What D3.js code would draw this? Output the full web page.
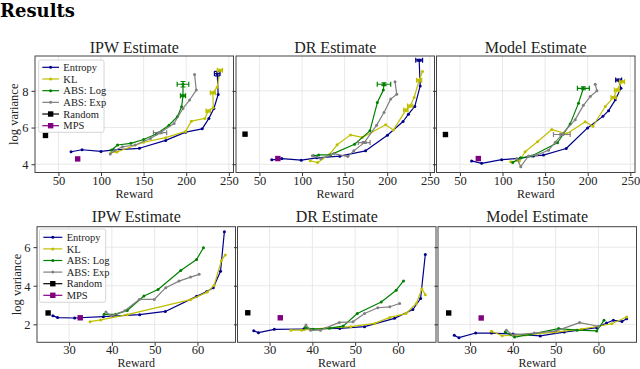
<!DOCTYPE html>
<html><head><meta charset="utf-8">
<script src="https://cdn.jsdelivr.net/npm/d3@7"></script>
<style>
body{margin:0;background:#fff}
svg{display:block}
text{font-family:"Liberation Serif",serif;fill:#222}
</style>
</head><body>
<svg id="c" width="640" height="369"></svg>
<script>
// ---------- data ----------
const seriesNames = ["Entropy", "KL", "ABS: Log", "ABS: Exp"];
const baselineNames = ["Random", "MPS"];
const topTitles = ["IPW Estimate", "DR Estimate", "Model Estimate"];
const bottomTitles = ["IPW Estimate", "DR Estimate", "Model Estimate"];
const topRewardTicks = [50, 100, 150, 200, 250];
const topLogVarTicks = [4, 6, 8];
const bottomRewardTicks = [30, 40, 50, 60];
const bottomLogVarTicks = [2, 4, 6];

// top row: [reward, log variance]
const topIpwEntropy = [[64.8,4.68],[77.7,4.79],[99.9,4.7],[115.5,4.78],[145.1,4.87],[175.9,5.3],[199.3,5.75],[218.8,5.93],[226.6,6.5],[232.5,7.04],[237.5,7.8],[236.4,8.94]];
const topIpwKL = [[111.6,4.63],[118.6,4.67],[150,5.2],[175.9,5.45],[199.3,5.79],[206,6.35],[221.9,6.5],[225.8,6.9],[231.7,7.08],[231.3,7.9],[236.4,8.2],[239.5,9.12]];
const topIpwLog = [[112.4,4.78],[119.4,5.05],[135,5.14],[150,5.35],[165,5.65],[179.8,6.13],[189.6,6.59],[194.6,7.13],[196.2,7.73],[196.2,8.36]];
const topIpwExp = [[110.8,4.56],[116,4.75],[125,4.95],[140,5.05],[158,5.4],[169.3,5.72],[185.7,6.22],[196.2,7.04],[204,7.5],[211.8,8.04],[209.8,8.89]];
const topIpwRandom = [34.8,5.57];
const topIpwMPS = [72.6,4.29];
// errorbars: [series index, reward, log variance, reward err, log variance err]
const topIpwErrors = [[0,236.4,8.94,3.3,0.12],[1,239.5,9.12,3,0.05],[1,231.3,7.9,3,0.05],[1,225.8,6.9,2.5,0.05],[2,196.2,8.36,6.8,0.15],[2,196.2,7.73,3,0.05],[3,169.3,5.72,7.8,0.05]];

const topDrEntropy = [[64.5,4.24],[76.3,4.31],[99.1,4.22],[117.6,4.35],[144.3,4.44],[174.6,4.73],[200.2,5.58],[218.6,6.33],[224.9,6.73],[232.4,7.15],[238.7,8.27],[237.5,9.67]];
const topDrKL = [[109.7,4.19],[118.4,4.09],[132.5,4.55],[141.2,5.06],[156.9,5.6],[170.7,5.46],[198.2,6.15],[207.2,5.86],[221.8,6.95],[226.9,7.18],[231.6,7.64],[237.5,8.58],[241.4,9.05]];
const topDrLog = [[113.7,4.46],[119.6,4.51],[133.3,4.51],[161.6,5.09],[179.7,5.82],[188.4,7.36],[195.4,8.04],[196.2,8.36]];
const topDrExp = [[112.1,4.46],[122,4.3],[137.3,4.58],[153.8,4.42],[160.8,4.73],[173,5.18],[187.6,6.13],[196.2,6.82],[204.1,7.55],[211.2,7.82],[209.2,8.49]];
const topDrRandom = [33.1,5.64];
const topDrMPS = [71.6,4.31];
const topDrErrors = [[0,237.5,9.67,4,0.05],[1,237.5,8.58,3,0.05],[1,226.9,7.18,3,0.05],[1,221.8,6.95,2.5,0.05],[2,196.2,8.36,7.9,0.08],[3,173,5.18,6.9,0.05]];

const topModelEntropy = [[63.7,4.18],[75.5,4.05],[99,4.25],[120.6,4.32],[136.3,4.45],[148,4.5],[174.7,4.86],[199.8,5.98],[217.8,6.61],[224.5,6.92],[232.4,7.51],[239,8.14],[236.3,8.59]];
const topModelKL = [[109.6,4.13],[119.8,4.18],[126.5,4.68],[141,5.23],[157.8,5.89],[175.5,5.66],[197.1,6.31],[206.1,6.07],[220.6,7.15],[230.4,7.64],[234.3,8.05],[240.2,8.5]];
const topModelLog = [[112,4.09],[121.4,4.35],[134.3,4.45],[164.5,5.17],[179.4,6.2],[189.2,7.33],[194.9,8.14]];
const topModelExp = [[116.7,4.31],[121.4,3.87],[130.4,4.45],[140,4.5],[153.9,4.76],[162,5.2],[169.6,5.62],[185.3,6.43],[194.9,7.21],[203,7.69],[210.8,8],[208.8,8.36]];
const topModelRandom = [33,5.62];
const topModelMPS = [71.6,4.31];
const topModelErrors = [[0,236.3,8.59,3.5,0.05],[1,240.2,8.5,3,0.05],[1,234.3,8.05,3,0.05],[1,230.4,7.64,3,0.05],[2,194.9,8.14,7,0.08],[3,169.6,5.62,9.8,0.05]];

// bottom row
const botIpwEntropy = [[26.2,2.45],[27.3,2.35],[31.3,2.33],[38,2.4],[46.5,2.5],[52.5,2.67],[59.8,3.45],[62.2,3.7],[63.7,3.9],[65.4,4.75],[66.3,6.8]];
const botIpwKL = [[34.9,2.14],[37.4,2.23],[43.6,2.5],[58.4,3.28],[62.3,3.67],[63.9,4.02],[65.6,5.3],[66.5,5.6]];
const botIpwLog = [[38.2,2.52],[40.9,2.52],[43.6,2.72],[47.5,3.47],[50.8,3.81],[56.1,4.79],[59.8,5.36],[61.4,5.97]];
const botIpwExp = [[38.6,2.64],[39.8,2.45],[43,2.7],[46.4,3.29],[49.9,3.29],[52.6,3.9],[55.7,4.24],[58.4,4.45],[60.4,4.59]];
const botIpwRandom = [25.1,2.59];
const botIpwMPS = [32.6,2.34];

const botDrEntropy = [[26.3,1.67],[27.4,1.57],[31.1,1.74],[38,1.76],[46.4,1.79],[52.2,1.88],[59.2,2.31],[63.5,2.77],[65.3,3.34],[66.4,5.62]];
const botDrKL = [[35,1.7],[37.5,1.7],[43,1.8],[49,1.88],[54.6,2.05],[58.1,2.36],[61.9,2.56],[64.3,3.08],[65.6,3.84],[66.4,3.54]];
const botDrLog = [[38.3,1.84],[40.2,1.74],[44,1.8],[47.2,1.91],[50.5,2.56],[56.1,3.16],[59.6,3.77],[61.3,4.25]];
const botDrExp = [[38.5,1.96],[39.6,1.7],[41.9,1.7],[46.3,2.1],[49.5,2.13],[52.2,2.56],[55.3,2.86],[58.1,2.91],[60.4,3.08]];
const botDrRandom = [24.9,2.6];
const botDrMPS = [32.5,2.34];

const botModelEntropy = [[26.3,1.43],[27.4,1.31],[31.3,1.55],[35,1.55],[40,1.5],[46.4,1.4],[52,1.6],[59.6,1.83],[61.9,2.07],[63.5,2.21],[65.5,2.15],[66.6,2.29]];
const botModelKL = [[35,1.64],[37.5,1.41],[43,1.45],[50,1.6],[56,1.75],[60,1.9],[63.1,2.03],[66.6,2.38]];
const botModelLog = [[38.2,1.6],[40.4,1.34],[44.1,1.48],[50.7,1.78],[55,1.7],[59.6,1.66],[61.3,2.21]];
const botModelExp = [[38.5,1.69],[40,1.45],[45,1.55],[50,1.65],[55.6,2.09],[60,1.9]];
const botModelRandom = [25,2.59];
const botModelMPS = [32.6,2.33];

// ---------- styles / layout ----------
const colors = ["#00008b", "#bfbf00", "#008000", "#808080"];
const baseColors = ["#000000", "#800080"];
const SERIF = "'Liberation Serif',serif";

const rows = [
  { top: 56, bottom: 172.5, xs: [35, 236, 436.5], w: 198.5,
    xDomain: [22.5, 255.5], yDomain: [3.55, 9.9],
    xTicks: topRewardTicks, yTicks: topLogVarTicks, titles: topTitles,
    titleY: 52.5, tickLabelY: 184.5, labelY: 197.5, ylabelX: 14,
    legend: { x: 38.7, y: 60, w: 65.3, h: 72.3, y0: 67.3, dy: 11.68, lx0: 42.3, lx1: 59, tx: 63.3 },
    panels: [
      { series: [topIpwEntropy, topIpwKL, topIpwLog, topIpwExp], base: [topIpwRandom, topIpwMPS], errors: topIpwErrors },
      { series: [topDrEntropy, topDrKL, topDrLog, topDrExp], base: [topDrRandom, topDrMPS], errors: topDrErrors },
      { series: [topModelEntropy, topModelKL, topModelLog, topModelExp], base: [topModelRandom, topModelMPS], errors: topModelErrors }
    ] },
  { top: 226.7, bottom: 342.3, xs: [37, 237.5, 438], w: 198.5,
    xDomain: [22.5, 68.9], yDomain: [1.07, 7.06],
    xTicks: bottomRewardTicks, yTicks: bottomLogVarTicks, titles: bottomTitles,
    titleY: 222, tickLabelY: 354.5, labelY: 367, ylabelX: 16.5,
    legend: { x: 39.5, y: 229, w: 66.2, h: 73.3, y0: 237.3, dy: 11.6, lx0: 43.3, lx1: 62.3, tx: 66.7 },
    panels: [
      { series: [botIpwEntropy, botIpwKL, botIpwLog, botIpwExp], base: [botIpwRandom, botIpwMPS], errors: [] },
      { series: [botDrEntropy, botDrKL, botDrLog, botDrExp], base: [botDrRandom, botDrMPS], errors: [] },
      { series: [botModelEntropy, botModelKL, botModelLog, botModelExp], base: [botModelRandom, botModelMPS], errors: [] }
    ] }
];

const svg = d3.select("#c");
svg.append("text").attr("x", 0).attr("y", 17)
  .style("font-family", "'DejaVu Serif',serif").style("font-weight", "bold")
  .style("font-size", "18px").style("fill", "#000").text("Results");

rows.forEach(row => {
  row.panels.forEach((p, pi) => {
    const x0 = row.xs[pi];
    const x = d3.scaleLinear().domain(row.xDomain).range([x0, x0 + row.w]);
    const y = d3.scaleLinear().domain(row.yDomain).range([row.bottom, row.top]);
    const g = svg.append("g");
    const clipId = "clip" + Math.round(row.top) + "_" + pi;
    svg.append("clipPath").attr("id", clipId).append("rect")
      .attr("x", x0).attr("y", row.top).attr("width", row.w).attr("height", row.bottom - row.top);

    // grid
    g.selectAll(".gx").data(row.xTicks).enter().append("line")
      .attr("x1", d => x(d)).attr("x2", d => x(d)).attr("y1", row.top).attr("y2", row.bottom)
      .attr("stroke", "#e6e6e6").attr("stroke-width", 0.9);
    g.selectAll(".gy").data(row.yTicks).enter().append("line")
      .attr("y1", d => y(d)).attr("y2", d => y(d)).attr("x1", x0).attr("x2", x0 + row.w)
      .attr("stroke", "#e6e6e6").attr("stroke-width", 0.9);

    // axes
    const fmt = d3.format("d");
    const xa = g.append("g").attr("transform", `translate(0,${row.bottom})`)
      .call(d3.axisBottom(x).tickValues(row.xTicks).tickFormat(fmt).tickSize(3.5).tickSizeOuter(0));
    xa.attr("font-family", null).attr("font-size", null);
    xa.select(".domain").remove();
    xa.selectAll("line").attr("stroke", "#333");
    xa.selectAll("text").attr("dy", null).attr("y", row.tickLabelY - row.bottom)
      .style("font-size", "12.5px").style("font-family", SERIF).attr("fill", "#222");
    const ya = g.append("g").attr("transform", `translate(${x0},0)`)
      .call(d3.axisLeft(y).tickValues(row.yTicks).tickFormat(fmt).tickSize(3.5).tickPadding(3).tickSizeOuter(0));
    ya.attr("font-family", null).attr("font-size", null);
    ya.select(".domain").remove();
    ya.selectAll("line").attr("stroke", "#333");
    ya.selectAll("text").style("font-size", "12.5px").style("font-family", SERIF)
      .attr("fill", "#222").attr("dy", "0.34em");
    if (pi > 0) ya.selectAll("text").remove();

    // data
    const dg = g.append("g").attr("clip-path", `url(#${clipId})`);
    const line = d3.line().x(d => x(d[0])).y(d => y(d[1]));
    p.series.forEach((s, si) => {
      dg.append("path").datum(s).attr("d", line).attr("fill", "none")
        .attr("stroke", colors[si]).attr("stroke-width", 1.2).attr("stroke-linejoin", "round");
      dg.selectAll(null).data(s).enter().append("circle")
        .attr("cx", d => x(d[0])).attr("cy", d => y(d[1])).attr("r", 1.5).attr("fill", colors[si]);
    });
    p.errors.forEach(e => {
      const c = colors[e[0]];
      const cx = x(e[1]), cy = y(e[2]);
      const xl = x(e[1] - e[3]), xr = x(e[1] + e[3]);
      const yt = y(e[2] + e[4]), yb = y(e[2] - e[4]);
      const segs = [[xl, cy, xr, cy], [xl, cy - 2.5, xl, cy + 2.5], [xr, cy - 2.5, xr, cy + 2.5],
                    [cx, yt, cx, yb], [cx - 2.5, yt, cx + 2.5, yt], [cx - 2.5, yb, cx + 2.5, yb]];
      segs.forEach(sg => dg.append("line").attr("x1", sg[0]).attr("y1", sg[1]).attr("x2", sg[2]).attr("y2", sg[3])
        .attr("stroke", c).attr("stroke-width", 1.2));
    });
    p.base.forEach((b, bi) => {
      dg.append("rect").attr("x", x(b[0]) - 2.7).attr("y", y(b[1]) - 2.7)
        .attr("width", 5.4).attr("height", 5.4).attr("fill", baseColors[bi]);
    });

    // frame
    g.append("rect").attr("x", x0).attr("y", row.top).attr("width", row.w).attr("height", row.bottom - row.top)
      .attr("fill", "none").attr("stroke", "#444").attr("stroke-width", 1);

    // title and x label
    g.append("text").attr("x", x0 + row.w / 2).attr("y", row.titleY).attr("text-anchor", "middle")
      .style("font-size", "16px").text(row.titles[pi]);
    g.append("text").attr("x", x0 + row.w / 2).attr("y", row.labelY).attr("text-anchor", "middle")
      .style("font-size", "12px").text("Reward");

    if (pi === 0) {
      const cy = (row.top + row.bottom) / 2;
      g.append("text").attr("transform", `translate(${row.ylabelX},${cy}) rotate(-90)`)
        .attr("text-anchor", "middle").attr("dy", "0.35em").style("font-size", "12.5px").text("log variance");

      // legend
      const L = row.legend;
      const lg = g.append("g");
      lg.append("rect").attr("x", L.x).attr("y", L.y).attr("width", L.w).attr("height", L.h)
        .attr("rx", 2).attr("fill", "#fff").attr("fill-opacity", 0.85).attr("stroke", "#ccc").attr("stroke-width", 0.8);
      const items = seriesNames.map((n, i) => ({ n, c: colors[i], sq: false }))
        .concat(baselineNames.map((n, i) => ({ n, c: baseColors[i], sq: true })));
      items.forEach((it, i) => {
        const yy = L.y0 + i * L.dy;
        lg.append("line").attr("x1", L.lx0).attr("x2", L.lx1).attr("y1", yy).attr("y2", yy)
          .attr("stroke", it.c).attr("stroke-width", 1.2);
        const mx = (L.lx0 + L.lx1) / 2;
        if (it.sq) lg.append("rect").attr("x", mx - 2.7).attr("y", yy - 2.7).attr("width", 5.4).attr("height", 5.4).attr("fill", it.c);
        else lg.append("circle").attr("cx", mx).attr("cy", yy).attr("r", 1.5).attr("fill", it.c);
        lg.append("text").attr("x", L.tx).attr("y", yy).attr("dy", "0.35em")
          .style("font-size", "10.5px").style("font-family", SERIF).text(it.n);
      });
    }
  });
});
</script>
</body></html>
